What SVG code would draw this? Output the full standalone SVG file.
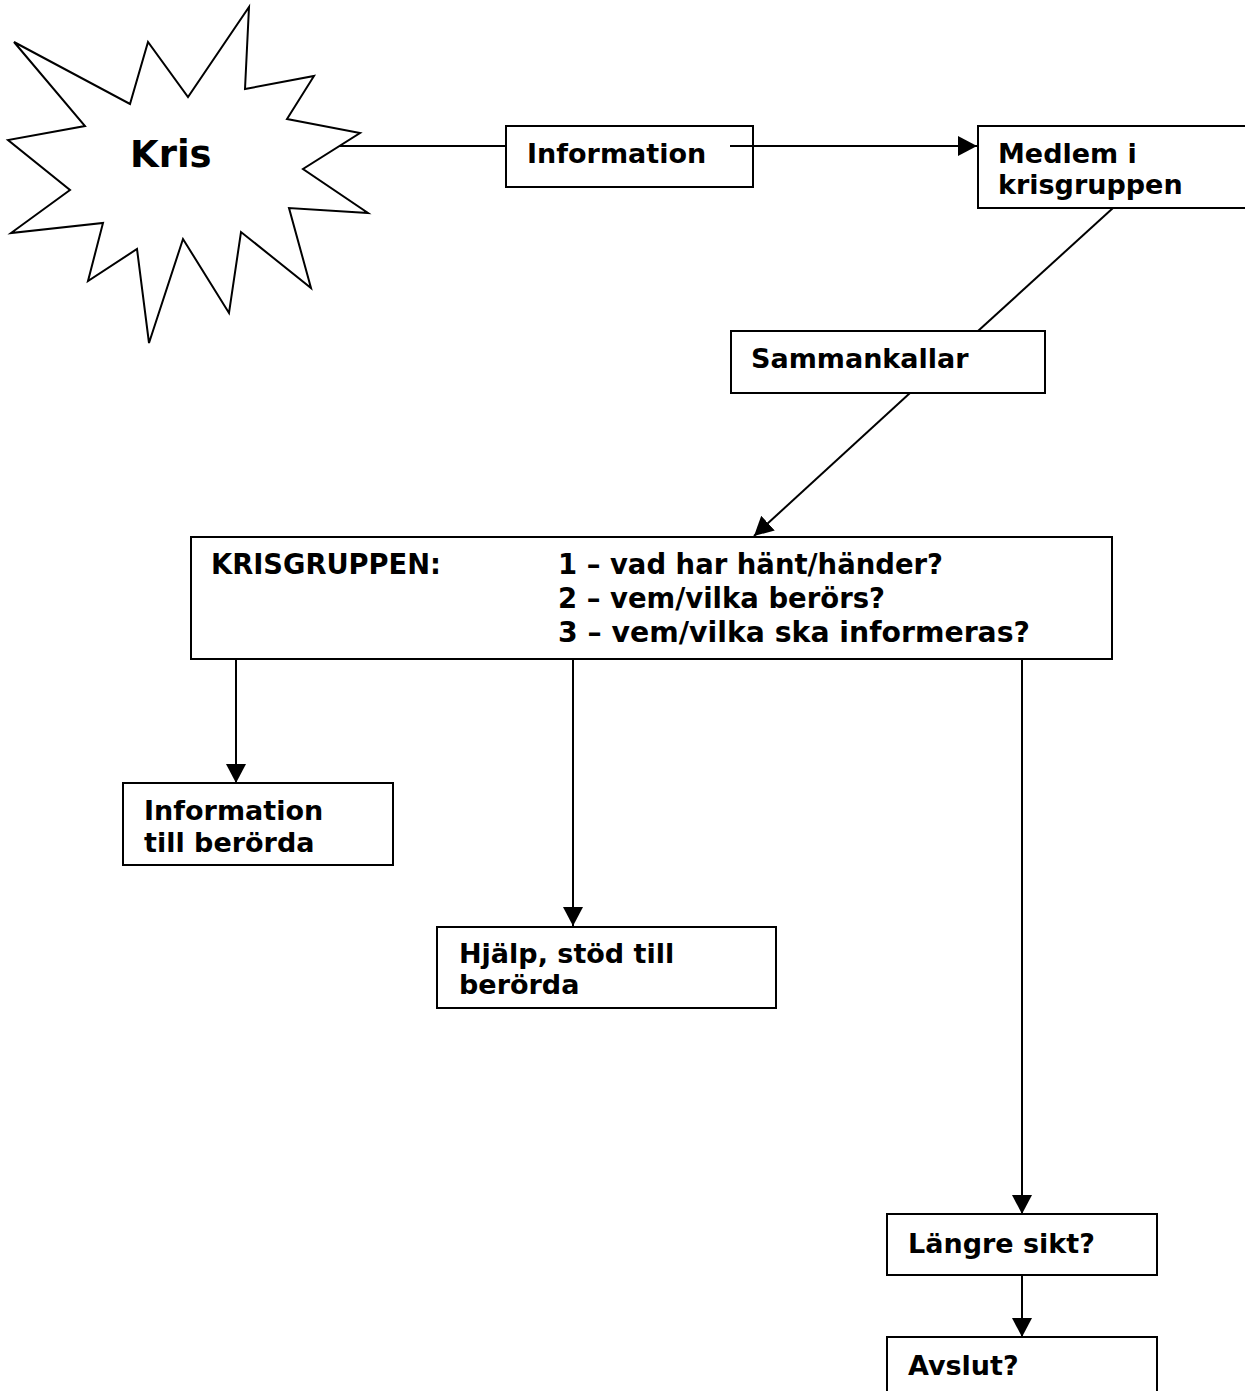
<svg xmlns="http://www.w3.org/2000/svg" width="1245" height="1391" viewBox="0 0 1245 1391">
  <style>
    .box { fill: #ffffff; stroke: #000000; stroke-width: 2; }
    .lbl { font-family: "DejaVu Sans", Verdana, sans-serif; font-weight: bold; font-size: 27px; fill: #000000; }
    .cond { font-family: "DejaVu Sans", Verdana, sans-serif; font-weight: bold; font-size: 28px; fill: #000000; }
    .conn { fill: none; stroke: #000000; stroke-width: 2; }
  </style>
  <defs>
    <marker id="arrow" markerUnits="userSpaceOnUse" markerWidth="21" markerHeight="21" refX="19" refY="10" orient="auto">
      <path d="M0,0 L19,10 L0,20 Z" fill="#000000"/>
    </marker>
  </defs>
  <rect width="1245" height="1391" fill="#ffffff"/>

  <g id="connectors">
    <line class="conn" x1="338" y1="146" x2="506" y2="146"/>
    <line class="conn" x1="730" y1="146" x2="977" y2="146" marker-end="url(#arrow)"/>
    <line class="conn" x1="1113" y1="208" x2="978" y2="331"/>
    <line class="conn" x1="910" y1="393" x2="754" y2="536" marker-end="url(#arrow)"/>
    <line class="conn" x1="236" y1="659" x2="236" y2="783" marker-end="url(#arrow)"/>
    <line class="conn" x1="573" y1="659" x2="573" y2="926" marker-end="url(#arrow)"/>
    <line class="conn" x1="1022" y1="659" x2="1022" y2="1214" marker-end="url(#arrow)"/>
    <line class="conn" x1="1022" y1="1275" x2="1022" y2="1337" marker-end="url(#arrow)"/>
  </g>

  <g id="kris">
    <polygon class="box" points="14,42 130,104 148,42 188,97 249,7 245,89 314,76 287,119 360,133 303,169 368,213 289,208 311,288 241,232 229,313 183,239 149,343 137,249 88,281 103,223 11,233 70,190 8,140 85,126"/>
    <text class="lbl" x="130" y="167" style="font-size:37px">Kris</text>
  </g>

  <g id="information">
    <rect class="box" x="506" y="126" width="247" height="61"/>
    <text class="lbl" x="527" y="163">Information</text>
  </g>
  <line class="conn" x1="730" y1="146" x2="753" y2="146"/>

  <g id="medlem">
    <rect class="box" x="978" y="126" width="290" height="82"/>
    <text class="lbl" x="998" y="163">Medlem i</text>
    <text class="lbl" x="998" y="194">krisgruppen</text>
  </g>

  <g id="sammankallar">
    <rect class="box" x="731" y="331" width="314" height="62"/>
    <text class="lbl" x="751" y="368">Sammankallar</text>
  </g>

  <g id="krisgruppen">
    <rect class="box" x="191" y="537" width="921" height="122"/>
    <text class="cond" x="211" y="574" textLength="230" lengthAdjust="spacingAndGlyphs">KRISGRUPPEN:</text>
    <text class="cond" x="558" y="574" textLength="385" lengthAdjust="spacingAndGlyphs">1 – vad har hänt/händer?</text>
    <text class="cond" x="558" y="608" textLength="327" lengthAdjust="spacingAndGlyphs">2 – vem/vilka berörs?</text>
    <text class="cond" x="558" y="642" textLength="472" lengthAdjust="spacingAndGlyphs">3 – vem/vilka ska informeras?</text>
  </g>

  <g id="info-berorda">
    <rect class="box" x="123" y="783" width="270" height="82"/>
    <text class="lbl" x="144" y="820">Information</text>
    <text class="lbl" x="144" y="852">till berörda</text>
  </g>

  <g id="hjalp">
    <rect class="box" x="437" y="927" width="339" height="81"/>
    <text class="lbl" x="459" y="963">Hjälp, stöd till</text>
    <text class="lbl" x="459" y="994">berörda</text>
  </g>

  <g id="langre">
    <rect class="box" x="887" y="1214" width="270" height="61"/>
    <text class="lbl" x="908" y="1253">Längre sikt?</text>
  </g>

  <g id="avslut">
    <rect class="box" x="887" y="1337" width="270" height="80"/>
    <text class="lbl" x="908" y="1375">Avslut?</text>
  </g>
</svg>
